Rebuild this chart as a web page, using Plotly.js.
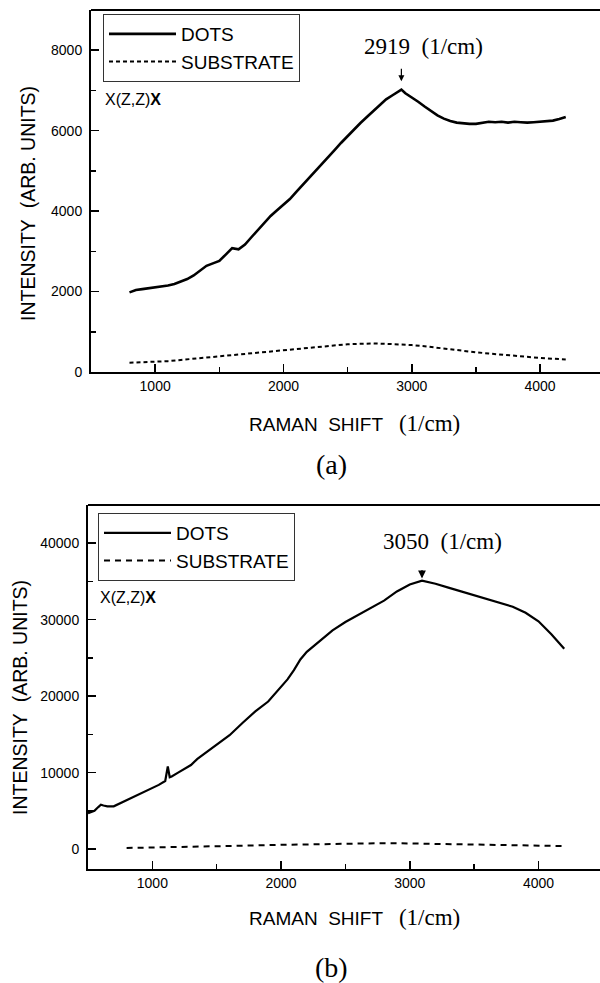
<!DOCTYPE html>
<html>
<head>
<meta charset="utf-8">
<script src="https://cdn.plot.ly/plotly-3.0.1.min.js"></script>
<style>html,body{margin:0;padding:0;background:#fff;}#chart{width:600px;height:983px;}</style>
</head>
<body>
<div id="chart"></div>
<script>
// ---- Panel (a) data ----
const aDotsX = [800,850,900,950,1000,1050,1100,1150,1200,1250,1300,1350,1400,1450,1500,1550,1600,1650,1700,1750,1800,1850,1900,1950,2000,2050,2100,2150,2200,2250,2300,2350,2400,2450,2500,2550,2600,2650,2700,2750,2800,2850,2900,2919,2950,3000,3050,3100,3150,3200,3250,3300,3350,3400,3450,3500,3550,3600,3650,3700,3750,3800,3850,3900,3950,4000,4050,4100,4150,4200];
const aDotsY = [1980,2040,2060,2080,2110,2130,2150,2190,2250,2310,2400,2520,2640,2700,2760,2920,3080,3050,3170,3350,3520,3700,3880,4020,4150,4300,4480,4650,4820,5000,5180,5350,5520,5700,5870,6030,6190,6340,6490,6640,6780,6880,6980,7020,6930,6830,6720,6600,6480,6380,6300,6240,6200,6180,6170,6170,6190,6220,6210,6220,6200,6220,6210,6200,6210,6220,6230,6250,6290,6340];
const aSubX = [800,900,1000,1100,1200,1300,1400,1500,1600,1700,1800,1900,2000,2100,2200,2300,2400,2500,2600,2700,2800,2900,3000,3100,3200,3300,3400,3500,3600,3700,3800,3900,4000,4100,4200];
const aSubY = [230,240,250,270,300,330,360,390,420,450,480,510,540,580,610,640,670,690,700,710,700,690,670,640,600,560,520,490,460,430,400,380,350,330,310];

// ---- Panel (b) data ----
const bDotsX = [500,550,580,600,620,650,700,750,800,850,900,950,1000,1050,1100,1120,1135,1150,1200,1300,1350,1400,1500,1600,1700,1750,1800,1900,2000,2050,2100,2150,2200,2300,2400,2500,2600,2700,2800,2900,3000,3095,3200,3300,3400,3500,3600,3700,3800,3900,4000,4100,4200];
const bDotsY = [4700,5000,5500,5800,5700,5600,5600,6000,6300,6800,7200,7600,8000,8400,8900,10800,9400,9500,10000,11000,11800,12400,13600,14900,16500,17300,18000,19300,21300,22200,23400,24800,25800,27200,28600,29700,30600,31500,32500,33700,34600,35100,34700,34200,33700,33200,32700,32200,31700,30900,29800,28100,26200];
const bSubX = [800,1000,1200,1400,1600,1800,2000,2200,2400,2600,2700,2800,3000,3200,3400,3600,3800,4000,4200];
const bSubY = [150,200,250,330,400,480,560,630,700,760,790,780,740,680,620,560,500,450,400];

// ---- Labels ----
const seriesNames = ['DOTS', 'SUBSTRATE'];
const xTickVals = [1000, 2000, 3000, 4000];
const aYTickVals = [0, 2000, 4000, 6000, 8000];
const bYTickVals = [0, 10000, 20000, 30000, 40000];
const aPeak = {x: 2919, y: 7230, label: '2919&nbsp;&nbsp;(1/cm)'};
const bPeak = {x: 3095, y: 35400, label: '3050&nbsp;&nbsp;(1/cm)'};

const SANS = 'Liberation Sans, Arial, sans-serif';
const SERIF = 'Liberation Serif, Times New Roman, serif';
const H = 983, W = 600;
const py = v => (H - v) / H;   // pixel row -> paper fraction
const px = v => v / W;

const traces = [
  {x: aDotsX, y: aDotsY, name: seriesNames[0], type: 'scatter', mode: 'lines', xaxis: 'x', yaxis: 'y', legend: 'legend',
   line: {color: '#000', width: 2.6}},
  {x: aSubX, y: aSubY, name: seriesNames[1], type: 'scatter', mode: 'lines', xaxis: 'x', yaxis: 'y', legend: 'legend',
   line: {color: '#000', width: 2, dash: '4px,3px'}},
  {x: bDotsX, y: bDotsY, name: seriesNames[0], type: 'scatter', mode: 'lines', xaxis: 'x2', yaxis: 'y2', legend: 'legend2',
   line: {color: '#000', width: 2.2}},
  {x: bSubX, y: bSubY, name: seriesNames[1], type: 'scatter', mode: 'lines', xaxis: 'x2', yaxis: 'y2', legend: 'legend2',
   line: {color: '#000', width: 2, dash: '6px,5px'}}
];

const axisCommon = {
  showgrid: false, zeroline: false, showline: true, linecolor: '#000', linewidth: 2,
  ticks: 'inside', ticklen: 8, tickwidth: 1.5, tickcolor: '#000', tickformat: 'd',
  tickfont: {family: SANS, size: 14, color: '#000'},
  minor: {ticks: 'inside', ticklen: 5, tickwidth: 1.5, tickcolor: '#000', showgrid: false}
};

const legendCommon = {xanchor: 'left', yanchor: 'top', bgcolor: '#fff',
  bordercolor: '#333', borderwidth: 1, font: {family: SANS, size: 19, color: '#000'},
  itemwidth: 67, tracegroupgap: 0, traceorder: 'normal'};

const layout = {
  width: W, height: H,
  margin: {l: 0, r: 0, t: 0, b: 0},
  paper_bgcolor: '#fff', plot_bgcolor: '#fff',
  showlegend: true,
  xaxis: Object.assign({}, axisCommon, {domain: [px(91), 1], range: [500, 4467], anchor: 'y',
    tickvals: xTickVals, minor: Object.assign({}, axisCommon.minor, {dtick: 500, tick0: 500})}),
  yaxis: Object.assign({}, axisCommon, {domain: [py(372), py(10)], range: [0, 9000], anchor: 'x',
    tickvals: aYTickVals, ticklabelstandoff: 4, minor: Object.assign({}, axisCommon.minor, {dtick: 1000, tick0: 0})}),
  xaxis2: Object.assign({}, axisCommon, {domain: [px(88), 1], range: [500, 4478], anchor: 'y2',
    tickvals: xTickVals, minor: Object.assign({}, axisCommon.minor, {dtick: 500, tick0: 500})}),
  yaxis2: Object.assign({}, axisCommon, {domain: [py(869), py(505)], range: [-2600, 45000], anchor: 'x2',
    tickvals: bYTickVals, ticklabelstandoff: 4, minor: Object.assign({}, axisCommon.minor, {dtick: 5000, tick0: 0})}),
  legend: Object.assign({}, legendCommon, {x: px(103), y: py(14)}),
  legend2: Object.assign({}, legendCommon, {x: px(98), y: py(513)}),
  shapes: [
    {type: 'line', xref: 'x domain', yref: 'y domain', x0: 0, x1: 1, y0: 1, y1: 1, line: {color: '#000', width: 2}},
    {type: 'line', xref: 'x2 domain', yref: 'y2 domain', x0: 0, x1: 1, y0: 1, y1: 1, line: {color: '#000', width: 2}}
  ],
  annotations: [
    // y titles
    {xref: 'paper', yref: 'paper', x: px(28), y: py(204), text: 'INTENSITY&nbsp;&nbsp;(ARB.&nbsp;UNITS)', textangle: -90,
     showarrow: false, font: {family: SANS, size: 19.5, color: '#000'}, xanchor: 'center', yanchor: 'middle'},
    {xref: 'paper', yref: 'paper', x: px(20), y: py(698), text: 'INTENSITY&nbsp;&nbsp;(ARB.&nbsp;UNITS)', textangle: -90,
     showarrow: false, font: {family: SANS, size: 19.5, color: '#000'}, xanchor: 'center', yanchor: 'middle'},
    // x titles
    {xref: 'paper', yref: 'paper', x: px(247), y: py(424), xanchor: 'left', yanchor: 'middle', showarrow: false,
     text: 'RAMAN&nbsp;&nbsp;SHIFT&nbsp;&nbsp;&nbsp;<span style="font-family:Liberation Serif;font-size:23px">(1/cm)</span>',
     font: {family: SANS, size: 19, color: '#000'}},
    {xref: 'paper', yref: 'paper', x: px(247), y: py(917), xanchor: 'left', yanchor: 'middle', showarrow: false,
     text: 'RAMAN&nbsp;&nbsp;SHIFT&nbsp;&nbsp;&nbsp;<span style="font-family:Liberation Serif;font-size:23px">(1/cm)</span>',
     font: {family: SANS, size: 19, color: '#000'}},
    // panel labels
    {xref: 'paper', yref: 'paper', x: px(331), y: py(464), text: '(a)', showarrow: false,
     font: {family: SERIF, size: 28, color: '#000'}, xanchor: 'center', yanchor: 'middle'},
    {xref: 'paper', yref: 'paper', x: px(331), y: py(967), text: '(b)', showarrow: false,
     font: {family: SERIF, size: 28, color: '#000'}, xanchor: 'center', yanchor: 'middle'},
    // polarisation labels
    {xref: 'paper', yref: 'paper', x: px(103), y: py(100), text: 'X(Z,Z)<b>X</b>', showarrow: false,
     font: {family: SANS, size: 16, color: '#000'}, xanchor: 'left', yanchor: 'middle'},
    {xref: 'paper', yref: 'paper', x: px(98), y: py(597), text: 'X(Z,Z)<b>X</b>', showarrow: false,
     font: {family: SANS, size: 16, color: '#000'}, xanchor: 'left', yanchor: 'middle'},
    // peak labels
    {xref: 'paper', yref: 'paper', x: px(423), y: py(46), text: aPeak.label, showarrow: false,
     font: {family: SERIF, size: 23, color: '#000'}, xanchor: 'center', yanchor: 'middle'},
    {xref: 'paper', yref: 'paper', x: px(442), y: py(541), text: bPeak.label, showarrow: false,
     font: {family: SERIF, size: 23, color: '#000'}, xanchor: 'center', yanchor: 'middle'},
    // peak arrows
    {xref: 'x', yref: 'y', x: aPeak.x, y: aPeak.y, ax: 0, ay: -14, text: '', showarrow: true,
     arrowhead: 2, arrowsize: 1, arrowwidth: 1.2, arrowcolor: '#000'},
    {xref: 'x2', yref: 'y2', x: bPeak.x, y: bPeak.y, ax: 0, ay: -10, text: '', showarrow: true,
     arrowhead: 2, arrowsize: 1.3, arrowwidth: 1.2, arrowcolor: '#000'}
  ]
};

Plotly.newPlot('chart', traces, layout, {staticPlot: true, displayModeBar: false});
</script>
</body>
</html>
